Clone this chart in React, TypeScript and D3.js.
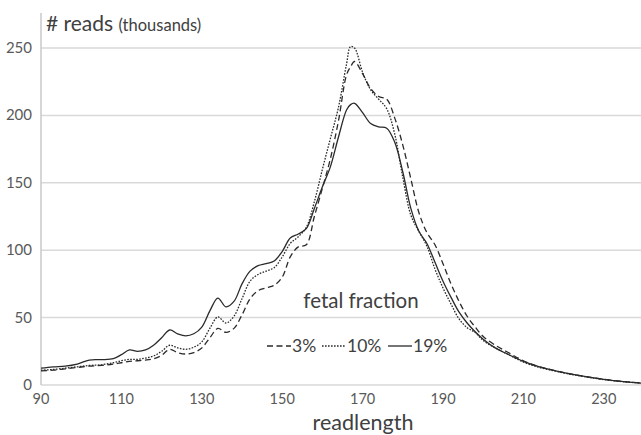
import React from "react";
import * as d3 from "d3";

const readLength = [90, 93, 96, 99, 102, 105, 108, 110, 112, 114, 116, 118, 120, 122, 124, 126, 128, 130, 132, 134, 136, 138, 140, 142, 144, 146, 148, 150, 152, 154, 156, 158, 160, 162, 164, 166, 167, 168, 170, 172, 174, 176, 178, 180, 182, 184, 186, 188, 190, 192, 194, 196, 198, 200, 203, 206, 210, 214, 218, 222, 226, 230, 235, 240];

const ff3 = [10.5, 11, 12, 13, 14, 14.5, 15.5, 16.5, 17.5, 18, 18.5, 19.5, 22, 26.5, 24, 23, 24, 27.5, 35, 42, 39, 42, 52, 64, 70, 72, 74, 80, 95, 102.5, 104, 125, 146, 168, 196, 230, 236, 240, 231, 220, 214, 212, 198, 178, 153, 128, 113, 104, 90, 75, 62, 51, 43, 36, 29.5, 24.5, 18, 13.5, 10.6, 8, 6, 4.2, 2.5, 1.3];

const ff10 = [11, 11.5, 12.5, 13.5, 14.5, 15, 16.5, 18, 19, 19, 20, 21.5, 25, 29.5, 27.5, 26.5, 28, 32, 42, 50.5, 46, 51, 64, 77, 82, 84.5, 87, 95, 105, 110, 117, 136, 160, 183, 206, 238, 251, 250, 232, 219, 212, 205, 186, 154, 126, 114, 103, 86, 72, 60, 49, 42.5, 39, 33, 27.5, 23, 17, 13, 10.3, 7.8, 5.8, 4, 2.4, 1.3];

const ff19 = [12.5, 13.5, 14, 15.5, 18.5, 18.8, 19.5, 22.5, 26, 25, 26, 29.5, 35, 40.8, 38, 36.5, 38, 43, 55, 64.5, 58, 62, 75, 84.5, 88.5, 90, 92, 99, 109, 112, 116, 131, 147, 162, 184, 204, 208, 209, 202, 194, 191.5, 190.5, 180, 158, 131, 114, 105, 91, 77, 65, 54, 46, 39.5, 34, 27.5, 23, 17.5, 13.5, 10.5, 8, 6, 4.2, 2.5, 1.3];

const yTicks = [0, 50, 100, 150, 200, 250];
const xTicks = [90, 110, 130, 150, 170, 190, 210, 230];
const legendLabels = ["3%", "10%", "19%"];

const W = 641;
const H = 435;
const FONT = "Lato, 'Open Sans', sans-serif";

export default function App() {
  const x = d3.scaleLinear().domain([90, 240]).range([41, 41 + 150 * 4.02]);
  const y = d3.scaleLinear().domain([0, 250]).range([385, 48]);

  const line = d3
    .line<number>()
    .x((_, i) => x(readLength[i]))
    .y((d) => y(d))
    .curve(d3.curveCatmullRom.alpha(0.5));

  const series = [
    { values: ff3, dash: "6,3.5", width: 1.3 },
    { values: ff10, dash: "1.6,1.4", width: 1.3 },
    { values: ff19, dash: "none", width: 1.3 },
  ];

  const legendItems = [
    { lx: 267, tx: 292, dash: "6,3.5" },
    { lx: 322, tx: 347, dash: "1.6,1.4" },
    { lx: 388, tx: 413, dash: "none" },
  ];

  return (
    <svg
      width={W}
      height={H}
      style={{ position: "fixed", left: 0, top: 0, background: "#fff" }}
      fontFamily={FONT}
    >
      <rect x={0} y={0} width={W} height={H} fill="#fff" />
      {yTicks.map((t) => (
        <g key={t}>
          <line x1={41} x2={W} y1={y(t)} y2={y(t)} stroke="#d9d9d9" strokeWidth={1.5} />
          <text x={32} y={y(t) + 5} textAnchor="end" fontSize={15} fill="#595959">
            {t}
          </text>
        </g>
      ))}
      <line x1={41} x2={41} y1={13} y2={385} stroke="#c8c8c8" strokeWidth={1.5} />
      {xTicks.map((t) => (
        <text key={t} x={x(t)} y={404} textAnchor="middle" fontSize={14.5} fill="#595959">
          {t}
        </text>
      ))}
      {series.map((s, i) => (
        <path
          key={i}
          d={line(s.values) || ""}
          fill="none"
          stroke="#2a2a2a"
          strokeWidth={s.width}
          strokeDasharray={s.dash}
        />
      ))}
      <text x={46} y={31} fontSize={21} fill="#404040">
        # reads <tspan fontSize={16.5}>(thousands)</tspan>
      </text>
      <text x={363} y={430} textAnchor="middle" fontSize={21.5} fill="#404040">
        readlength
      </text>
      <text x={361} y={308} textAnchor="middle" fontSize={20.5} fill="#404040">
        fetal fraction
      </text>
      {legendItems.map((it, i) => (
        <g key={i}>
          <line
            x1={it.lx}
            x2={it.lx + 24}
            y1={346}
            y2={346}
            stroke="#2a2a2a"
            strokeWidth={1.3}
            strokeDasharray={it.dash}
          />
          <text x={it.tx} y={352} fontSize={17.5} fill="#404040">
            {legendLabels[i]}
          </text>
        </g>
      ))}
    </svg>
  );
}
